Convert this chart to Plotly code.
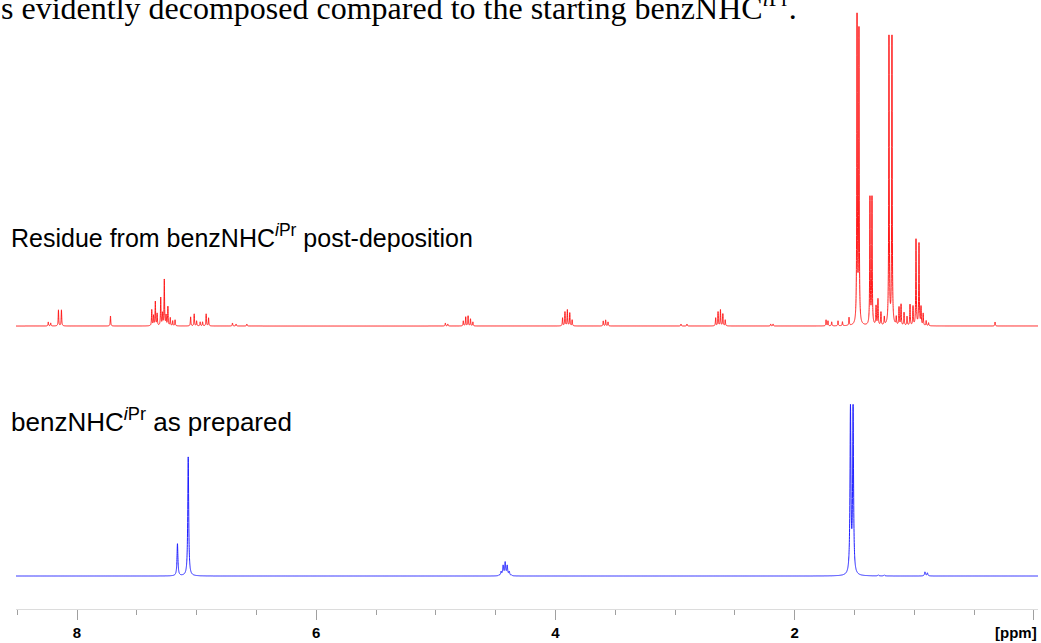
import numpy as np
import plotly.graph_objects as go

# ---- 1H NMR peak lists (chemical shift in ppm, intensity in arbitrary units) ----
residue_shift = [8.240, 8.220, 8.155, 8.130, 7.720,
                 7.375, 7.360, 7.345, 7.330, 7.300, 7.285, 7.270, 7.255, 7.240, 7.220, 7.200, 7.180,
                 7.050, 7.020, 7.000, 6.970, 6.950, 6.920, 6.900,
                 6.700, 6.670, 6.580,
                 4.920, 4.900,
                 4.770, 4.750, 4.730, 4.710, 4.690,
                 3.940, 3.920, 3.900, 3.880, 3.860,
                 3.600, 3.580, 3.560,
                 2.950, 2.900,
                 2.660, 2.640, 2.620, 2.600, 2.580,
                 2.200, 2.180,
                 1.737, 1.721, 1.690, 1.637, 1.600, 1.545,
                 1.478, 1.462,
                 1.370, 1.353,
                 1.319, 1.303, 1.278, 1.250,
                 1.211, 1.186,
                 1.150, 1.127, 1.110, 1.085, 1.060,
                 1.035, 1.010, 0.985, 0.960, 0.943, 0.925,
                 0.900, 0.880, 0.324]
residue_int = [4, 3, 16, 16, 10,
               16, 10, 24, 12, 28, 12, 46, 10, 19, 8, 5, 6,
               9, 12, 5, 4, 4, 12, 8,
               3, 2, 2,
               3, 2,
               5, 9, 10, 7, 4,
               8, 14, 16, 13, 6,
               5, 6, 4,
               2, 2,
               8, 14, 16, 12, 6,
               2, 2,
               6, 5, 4, 5, 4, 8,
               306, 292,
               127, 127,
               19, 26, 13, 8,
               288, 288,
               8, 18, 21, 13, 9,
               21, 19, 86, 82, 18, 12,
               5, 3, 4]

prepared_shift = [7.160, 7.070,
                  4.471, 4.454, 4.437, 4.420, 4.403, 4.386, 4.369,
                  1.533, 1.511,
                  0.910, 0.890, 1.300, 1.250]
prepared_int = [32, 119,
                0.7, 3.9, 9.8, 13, 9.8, 3.9, 0.7,
                165, 165,
                4, 3, 1, 1]

# axis ticks
major_ticks = [8, 6, 4, 2, 0]
major_labels = ["8", "6", "4", "2", ""]

# ---- line shapes ----
ppm = np.round(np.arange(8.56, -0.06, -0.0005), 4)


def spectrum(shifts, heights, hwhm):
    y = np.zeros_like(ppm)
    for c, h in zip(shifts, heights):
        y += h / (1.0 + ((ppm - c) / hwhm) ** 2)
    return y


residue_y = spectrum(residue_shift, residue_int, 0.0025)
prepared_y = spectrum(prepared_shift, prepared_int, 0.0045)

fig = go.Figure()
fig.add_trace(go.Scatter(x=ppm, y=prepared_y, mode="lines", yaxis="y",
                         line=dict(color="#1f1fff", width=1, simplify=False),
                         hoverinfo="skip", showlegend=False))
fig.add_trace(go.Scatter(x=ppm, y=residue_y, mode="lines", yaxis="y2",
                         line=dict(color="#ff1a1a", width=1, simplify=False),
                         hoverinfo="skip", showlegend=False))

W, H = 1041, 643
ML, MR, MT, MB = 16, 3, 0, 34
PW, PH = W - ML - MR, H - MT - MB


def px_x(px):
    return (px - ML) / PW


def px_y(py):
    return (MT + PH - py) / PH


sans = "Liberation Sans, Arial, sans-serif"

annotations = [
    dict(text="s evidently decomposed compared to the starting benzNHC<sup><i>i</i>Pr</sup>.",
         xref="paper", yref="paper", x=px_x(-1), y=px_y(28.5),
         xanchor="left", yanchor="bottom", showarrow=False,
         font=dict(family="Liberation Serif, Times New Roman, serif", size=32, color="black")),
    dict(text="Residue from benzNHC<sup><i>i</i>Pr</sup> post-deposition",
         xref="paper", yref="paper", x=px_x(9), y=px_y(254),
         xanchor="left", yanchor="bottom", showarrow=False,
         font=dict(family=sans, size=25, color="black")),
    dict(text="benzNHC<sup><i>i</i>Pr</sup> as prepared",
         xref="paper", yref="paper", x=px_x(9), y=px_y(439),
         xanchor="left", yanchor="bottom", showarrow=False,
         font=dict(family=sans, size=26, color="black")),
    dict(text="<b>[ppm]</b>",
         xref="paper", yref="paper", x=px_x(1039), y=px_y(632),
         xanchor="right", yanchor="middle", showarrow=False,
         font=dict(family=sans, size=15, color="black")),
]

fig.update_layout(
    width=W, height=H,
    margin=dict(l=ML, r=MR, t=MT, b=MB),
    paper_bgcolor="white", plot_bgcolor="white",
    xaxis=dict(range=[8.51, -0.035], showgrid=False, zeroline=False,
               showline=True, linecolor="#dcdcdc", linewidth=1,
               ticks="outside", ticklen=10, tickwidth=1, tickcolor="#a0a0a0",
               tickmode="array", tickvals=major_ticks, ticktext=major_labels,
               tickfont=dict(family=sans, size=15, color="black", weight="bold"),
               minor=dict(dtick=0.5, tick0=0, ticklen=5, tickwidth=1,
                          tickcolor="#a0a0a0", ticks="outside", showgrid=False)),
    yaxis=dict(range=[-33, 576], visible=False, fixedrange=True),
    yaxis2=dict(range=[-283, 326], visible=False, overlaying="y", fixedrange=True),
    annotations=annotations,
)

fig.write_html("out.html")
